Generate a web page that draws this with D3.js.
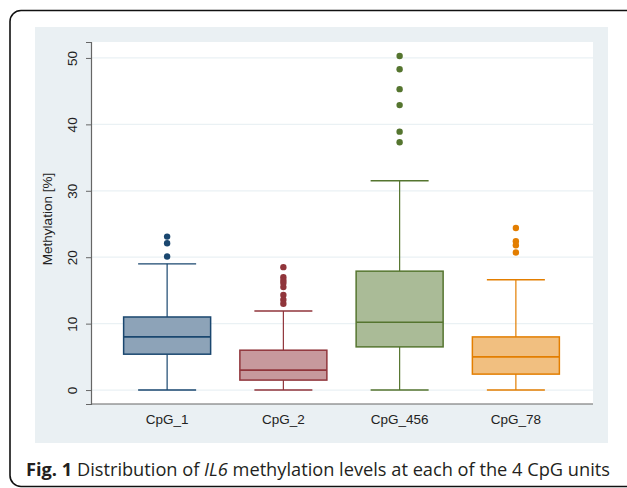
<!DOCTYPE html>
<meta charset="utf-8">
<style>
body { margin: 0; background: #fff; }
.ylabel, .xlab { font-family: "Liberation Sans", Arial, sans-serif; fill: #222; }
.caption { font-family: "Open Sans", sans-serif; font-size: 17px; fill: #231f20; }
</style>
<body>
<script src="https://cdnjs.cloudflare.com/ajax/libs/d3/7.8.5/d3.min.js"></script>
<script>

var width = 627,
    height = 488;

// values
var units = ["CpG_1", "CpG_2", "CpG_456", "CpG_78"];
var lowWhisker = [0, 0, 0, 0];
var q1 = [5.4, 1.5, 6.5, 2.4];
var median = [8.0, 3.0, 10.2, 5.0];
var q3 = [11.0, 6.0, 17.9, 8.0];
var highWhisker = [19.0, 11.9, 31.5, 16.6];
var outliers = [
  [23.1, 22.1, 20.1],
  [18.5, 17.0, 16.5, 16.1, 15.5, 14.3, 13.6, 13.0],
  [50.3, 48.3, 45.3, 42.9, 38.9, 37.3],
  [24.4, 22.4, 21.8, 20.7]
];
var yTicks = [0, 10, 20, 30, 40, 50];
var strokeColors = ["#1a476f", "#90353b", "#55752f", "#e37e00"];
var fillColors = ["#8da3b8", "#c7999d", "#aabb97", "#f1bf80"];

var plot = {left: 91, right: 593, top: 42, bottom: 404};

var svg = d3.select("body").append("svg")
    .attr("width", width)
    .attr("height", height);

// outer rounded frame
svg.append("rect")
    .attr("x", 10).attr("y", 10.5)
    .attr("width", 660).attr("height", 476)
    .attr("rx", 11)
    .attr("fill", "none")
    .attr("stroke", "#111")
    .attr("stroke-width", 1.6);

// grey graph region
svg.append("rect")
    .attr("x", 35).attr("y", 27)
    .attr("width", 573).attr("height", 416)
    .attr("fill", "#eaf0f3");

svg.append("rect")
    .attr("x", plot.left).attr("y", plot.top)
    .attr("width", plot.right - plot.left).attr("height", plot.bottom - plot.top)
    .attr("fill", "#fff");

var x = d3.scaleBand()
    .domain(units)
    .range([109, 574])
    .padding(0);

var y = d3.scaleLinear()
    .domain([-2.1, 52.4])
    .range([plot.bottom, plot.top]);

// gridlines
svg.append("g")
  .selectAll("line")
    .data(yTicks)
  .enter().append("line")
    .attr("x1", plot.left).attr("x2", plot.right)
    .attr("y1", function(d) { return y(d); })
    .attr("y2", function(d) { return y(d); })
    .attr("stroke", "#eaf1f4")
    .attr("stroke-width", 1.2);

// y axis
var yAxis = svg.append("g")
    .attr("transform", "translate(" + plot.left + ",0)")
    .call(d3.axisLeft(y).tickValues(yTicks).tickSize(5));
yAxis.select(".domain").attr("stroke", "#666").attr("stroke-width", 1.2);
yAxis.selectAll(".tick line").attr("stroke", "#666");
yAxis.selectAll(".tick text")
    .attr("font-size", 13.5)
    .attr("text-anchor", "middle")
    .attr("x", 0).attr("dy", 0)
    .attr("transform", "translate(-19,0) rotate(-90)")
    .attr("dominant-baseline", "central")
    .style("font-family", "Liberation Sans, Arial, sans-serif")
    .attr("fill", "#222");

// x axis line
svg.append("line")
    .attr("x1", plot.left).attr("x2", plot.right)
    .attr("y1", plot.bottom).attr("y2", plot.bottom)
    .attr("stroke", "#666")
    .attr("stroke-width", 1.2);

svg.append("text")
    .attr("class", "ylabel")
    .attr("transform", "translate(47,219) rotate(-90)")
    .attr("text-anchor", "middle")
    .attr("dominant-baseline", "central")
    .attr("font-size", 13.5)
    .text("Methylation [%]");

svg.append("g")
  .selectAll("text")
    .data(units)
  .enter().append("text")
    .attr("class", "xlab")
    .attr("x", function(d) { return x(d) + x.bandwidth() / 2; })
    .attr("y", 419)
    .attr("text-anchor", "middle")
    .attr("dominant-baseline", "central")
    .attr("font-size", 13.5)
    .text(function(d) { return d; });

// boxes
var boxW = 87, capW = 58;
var boxes = svg.append("g")
  .selectAll("g")
    .data(units)
  .enter().append("g")
    .attr("transform", function(d) { return "translate(" + (x(d) + x.bandwidth() / 2) + ",0)"; });

boxes.append("line")
    .attr("y1", function(d, i) { return y(highWhisker[i]); })
    .attr("y2", function(d, i) { return y(q3[i]); })
    .attr("stroke", function(d, i) { return strokeColors[i]; })
    .attr("stroke-width", 1.2);
boxes.append("line")
    .attr("y1", function(d, i) { return y(lowWhisker[i]); })
    .attr("y2", function(d, i) { return y(q1[i]); })
    .attr("stroke", function(d, i) { return strokeColors[i]; })
    .attr("stroke-width", 1.2);
boxes.selectAll(".cap")
    .data(function(d, i) { return [[highWhisker[i], i], [lowWhisker[i], i]]; })
  .enter().append("line")
    .attr("x1", -capW / 2).attr("x2", capW / 2)
    .attr("y1", function(d) { return y(d[0]); })
    .attr("y2", function(d) { return y(d[0]); })
    .attr("stroke", function(d) { return strokeColors[d[1]]; })
    .attr("stroke-width", 1.4);
boxes.append("rect")
    .attr("x", -boxW / 2)
    .attr("width", boxW)
    .attr("y", function(d, i) { return y(q3[i]); })
    .attr("height", function(d, i) { return y(q1[i]) - y(q3[i]); })
    .attr("fill", function(d, i) { return fillColors[i]; })
    .attr("stroke", function(d, i) { return strokeColors[i]; })
    .attr("stroke-width", 1.5);
boxes.append("line")
    .attr("x1", -boxW / 2).attr("x2", boxW / 2)
    .attr("y1", function(d, i) { return y(median[i]); })
    .attr("y2", function(d, i) { return y(median[i]); })
    .attr("stroke", function(d, i) { return strokeColors[i]; })
    .attr("stroke-width", 1.6);
boxes.selectAll("circle")
    .data(function(d, i) { return outliers[i].map(function(v) { return [v, i]; }); })
  .enter().append("circle")
    .attr("cy", function(d) { return y(d[0]); })
    .attr("r", 3.2)
    .attr("fill", function(d) { return strokeColors[d[1]]; });

// caption
var cap = svg.append("text")
    .attr("class", "caption")
    .attr("x", 26)
    .attr("y", 476);
cap.append("tspan").attr("font-weight", "bold").text("Fig. 1");
cap.append("tspan").text(" Distribution of ");
cap.append("tspan").attr("font-style", "italic").text("IL6");
cap.append("tspan").text(" methylation levels at each of the 4 CpG units");

// size the caption to the width it takes in the figure
var capLen = cap.node().getComputedTextLength();
cap.style("font-size", (17 * 584 / capLen) + "px");

</script>
